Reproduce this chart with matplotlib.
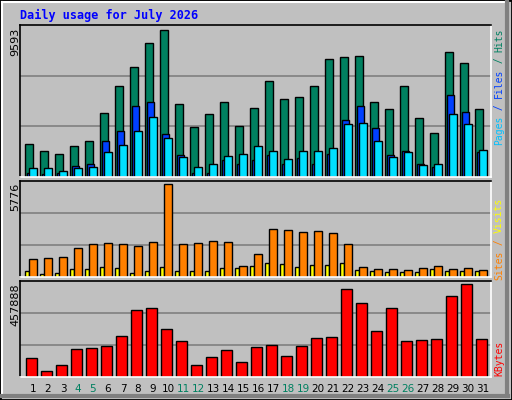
import numpy as np
import matplotlib
matplotlib.use("Agg")
import matplotlib.pyplot as plt
from matplotlib.patches import Rectangle
from matplotlib.lines import Line2D

days = list(range(1, 32))
hits = [2170,1715,1519,2040,2366,4189,5947,7184,8746,9593,4775,3277,4124,4905,3342,4514,6272,5100,5231,5947,7705,7835,7900,4905,4449,5947,3863,2887,8160,7444,4449]
files = [282,217,282,738,868,2366,3017,4645,4905,2821,1454,282,282,1129,868,1129,1454,868,1259,868,1519,3733,4645,3212,1454,1715,868,673,5361,4254,1649]
pages = [608,608,412,608,673,1649,2105,3017,3928,2561,1324,673,868,1389,1519,2040,1715,1194,1715,1715,1910,3473,3538,2366,1324,1649,803,868,4124,3473,1780]
sites = [1084,1147,1209,1772,2023,2085,2023,1898,2148,5776,2023,2085,2210,2148,646,1397,2961,2898,2773,2836,2711,2023,584,459,459,396,521,646,459,521,396]
visits = [334,146,209,459,459,584,521,209,334,584,334,334,334,521,521,646,834,771,584,709,709,834,396,334,271,271,271,459,334,334,334]
kbytes = [91911,31751,56818,137031,142044,152071,202204,332553,337567,237297,177138,56818,96924,132018,71858,147057,157084,101938,152071,192178,197191,432821,362634,227271,337567,177138,182151,187164,397727,457888,187164]
weekend = [4, 5, 11, 12, 18, 19, 25, 26]
title = "Daily usage for July 2026"

W, H = 512, 400
BG = "#c0c0c0"
fig = plt.figure(figsize=(W/100, H/100), dpi=100, facecolor=BG)

def fx(px): return px / W
def fy(py): return 1 - py / H

d = np.array(days)
slot = (d - 1) * 15.0

def panel(top, bot):
    ax = fig.add_axes([fx(20), fy(bot), fx(471), (bot - top) / H])
    ax.set_facecolor(BG)
    ax.set_xlim(0, 471)
    ax.set_xticks([]); ax.set_yticks([])
    ax.spines['left'].set_color('black'); ax.spines['top'].set_color('black')
    ax.spines['right'].set_color('white'); ax.spines['bottom'].set_color('white')
    for s in ax.spines.values():
        s.set_linewidth(1.2)
    return ax

def grid(ax, vmax):
    top = vmax / 0.965
    ax.set_ylim(0, top)
    for f in (1/3, 2/3):
        ax.axhline(top * f, color="#808080", lw=1.2, zorder=0)

kw = dict(align='edge', edgecolor='black', linewidth=1, zorder=2)

ax1 = panel(25, 177)
grid(ax1, max(hits))
ax1.bar(slot + 5.3, hits, 7.3, color="#008060", **kw)
ax1.bar(slot + 7.0, files, 7.3, color="#0040ff", **kw)
ax1.bar(slot + 9.3, pages, 7.3, color="#00e0ff", **kw)

ax2 = panel(180.7, 276.7)
grid(ax2, max(sites))
ax2.bar(slot + 5.3, visits, 4.0, color="#ffff00", **kw)
ax2.bar(slot + 9.3, sites, 7.3, color="#ff8000", **kw)

ax3 = panel(280.7, 377)
grid(ax3, max(kbytes))
ax3.bar(slot + 6.3, kbytes, 10.3, color="#ff0000", **kw)

mono = "DejaVu Sans Mono"
fig.text(fx(20), fy(15), title, color="#0000ff", family=mono, weight='bold',
         fontsize=8.5, va='center', ha='left')

for val, ytop in ((max(hits), 28), (max(sites), 183), (max(kbytes), 283)):
    fig.text(fx(15), fy(ytop), str(val), rotation=90, family="DejaVu Sans",
             fontsize=8, va='top', ha='center', color='black')

FS = 7.0
ADV = 0.602 * FS * 100 / 72

def rlabel(parts, ytop):
    # parts listed top to bottom; text reads bottom-to-top
    idx = 0
    for txt, col in parts:
        fig.text(fx(499), fy(ytop + idx * ADV), txt, rotation=90, family=mono,
                 fontsize=FS, va='top', ha='center', color=col)
        idx += len(txt)

rlabel([("Hits", "#008060"), (" / ", "#008060"), ("Files", "#0040ff"),
        (" / ", "#0040ff"), ("Pages", "#00c0ff")], 28)
rlabel([("Visits", "#ffff00"), (" / ", "#ff8000"), ("Sites", "#ff8000")], 198)
rlabel([("KBytes", "#ff0000")], 341)

for i in days:
    col = "#008060" if i in weekend else "black"
    fig.text(fx(20 + 13 + (i - 1) * 15), fy(389), str(i), family="DejaVu Sans",
             fontsize=7.5, ha='center', va='center', color=col)

fig.add_artist(Rectangle((0, 0), 1, 1, transform=fig.transFigure, fill=False,
                         edgecolor='black', lw=2))
fig.add_artist(Line2D([fx(2), fx(2)], [fy(396), fy(2)], transform=fig.transFigure, color='white', lw=1.5))
fig.add_artist(Line2D([fx(2), fx(508)], [fy(2), fy(2)], transform=fig.transFigure, color='white', lw=1.5))
fig.add_artist(Line2D([fx(507), fx(507)], [fy(396), fy(2)], transform=fig.transFigure, color='#808080', lw=3))
fig.add_artist(Line2D([fx(2), fx(508)], [fy(396), fy(396)], transform=fig.transFigure, color='#808080', lw=3))

fig.savefig("out.png", dpi=100, facecolor=BG)
